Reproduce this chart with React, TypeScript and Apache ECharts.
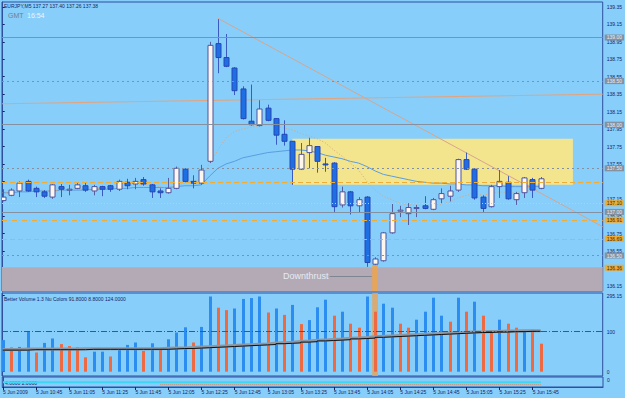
import React, { useEffect, useRef } from "react";
import * as echarts from "echarts";

// ---------- texts ----------
const titleText = "EURJPY,M5 137.27 137.40 137.26 137.38";
const clockLabel = "GMT";
const clockTime = "16:54";
const volumeTitle = "Better Volume 1.3 Nu Colors 91.8000 8.8000 124.0000";
const subTitle = "4.0000 2.0000";
const signalLabel = "Downthrust";
const signalIndex = 45;

// ---------- price bars (M5, index 0 = 10:25) ----------
const opens = [137.13,137.19,137.24,137.35,137.27,137.23,137.17,137.29,137.26,137.27,137.30,137.24,137.29,137.30,137.26,137.34,137.32,137.37,137.31,137.24,137.22,137.27,137.49,137.35,137.33,137.58,138.93,138.77,138.65,138.41,138.04,137.99,138.19,138.07,137.89,137.81,137.49,137.68,137.75,137.55,137.56,137.08,137.23,137.07,137.17,136.40,136.44,136.76,137.01,136.98,137.05,137.07,137.03,137.15,137.18,137.25,137.60,137.49,137.17,137.06,137.29,137.34,137.14,137.22,137.37,137.27];
const closes = [137.17,137.25,137.33,137.24,137.23,137.18,137.31,137.26,137.26,137.31,137.25,137.29,137.26,137.26,137.35,137.30,137.35,137.32,137.23,137.22,137.27,137.50,137.35,137.33,137.48,138.91,138.77,138.67,138.39,138.07,138.00,138.18,138.05,137.88,137.81,137.49,137.66,137.76,137.58,137.54,137.06,137.23,137.07,137.14,136.42,136.46,136.76,136.98,137.02,137.05,137.05,137.04,137.14,137.21,137.24,137.60,137.49,137.16,137.04,137.29,137.35,137.15,137.21,137.39,137.25,137.38];
const lows = [137.12,137.18,137.17,137.23,137.17,137.16,137.15,137.17,137.19,137.26,137.23,137.19,137.18,137.23,137.24,137.26,137.26,137.30,137.16,137.16,137.21,137.26,137.34,137.27,137.31,137.56,138.59,138.66,138.34,138.06,137.99,137.98,138.04,137.77,137.76,137.31,137.48,137.50,137.45,137.46,137.00,137.05,136.97,136.99,136.37,136.39,136.43,136.75,136.94,136.85,136.94,137.03,137.02,137.10,137.12,137.23,137.48,137.14,137.00,137.05,137.16,137.14,137.08,137.16,137.16,137.26];
const highs = [137.26,137.27,137.35,137.37,137.29,137.25,137.32,137.32,137.31,137.33,137.33,137.31,137.30,137.31,137.37,137.38,137.39,137.40,137.32,137.27,137.39,137.52,137.50,137.42,137.54,138.95,139.21,139.04,138.66,138.44,138.46,138.28,138.23,138.07,138.05,137.81,137.79,137.85,137.75,137.62,137.57,137.29,137.24,137.17,137.18,136.48,136.77,137.10,137.07,137.10,137.08,137.18,137.16,137.27,137.30,137.61,137.68,137.50,137.19,137.31,137.48,137.41,137.23,137.40,137.39,137.40];

// moving averages on price
const maSlow = [137.22,137.22,137.23,137.23,137.24,137.24,137.24,137.25,137.25,137.25,137.25,137.26,137.26,137.26,137.27,137.27,137.28,137.28,137.28,137.28,137.28,137.29,137.30,137.30,137.31,137.41,137.50,137.55,137.58,137.62,137.64,137.66,137.68,137.69,137.70,137.71,137.71,137.70,137.68,137.65,137.63,137.61,137.58,137.56,137.52,137.47,137.43,137.41,137.39,137.37,137.35,137.34,137.33,137.33,137.32,137.32,137.31,137.31,137.30,137.30,137.30,137.29,137.29,137.29,137.29,137.29];
const maFast = [137.22,137.23,137.25,137.26,137.26,137.25,137.24,137.25,137.26,137.26,137.27,137.27,137.27,137.27,137.29,137.30,137.31,137.32,137.31,137.29,137.27,137.30,137.33,137.35,137.38,137.56,137.71,137.85,137.92,137.95,137.97,137.99,138.00,137.99,137.96,137.94,137.90,137.87,137.84,137.79,137.71,137.64,137.56,137.48,137.35,137.25,137.18,137.14,137.10,137.08,137.08,137.07,137.08,137.09,137.11,137.16,137.19,137.21,137.19,137.21,137.23,137.22,137.22,137.24,137.25,137.26];

// ---------- volume ----------
const volumes = [79,61,62,100,48,72,83,69,64,61,36,50,50,38,54,67,73,52,71,57,81,98,111,73,112,188,160,154,158,182,184,188,148,158,142,167,119,129,161,180,140,150,120,110,188,150,170,160,120,110,130,150,185,140,125,185,150,175,140,100,130,120,110,100,105,70];
const volumeKinds = ["b","r","b","b","r","b","b","r","r","r","r","b","b","r","b","b","b","r","b","r","b","b","b","r","b","b","r","r","b","b","b","b","r","b","r","b","r","b","b","b","r","b","r","r","b","r","b","b","r","r","b","b","b","b","r","b","r","b","r","r","b","r","r","b","r","r"];
const volumeMA = [54,54,54,55,55,55,55,55,55,55,56,56,56,56,56,56,56,56,56,56,57,58,58,59,60,61,62,63,64,65,66,67,68,70,71,72,74,75,77,78,79,80,82,83,84,86,87,88,89,90,91,92,93,94,95,96,97,98,98,99,99,100,100,101,101,101];
const volumeLevel = 100;
const volumeTickValues = [0, 100, 190];
const volumeTickLabels = ["0", "100", "295.15"];

// ---------- lower indicator ----------
const subUpperIdx = [0, 65];
const subUpperVal = [4, 4];
const subLowerIdx = [19, 65];
const subLowerVal = [2, 2];

// ---------- axes ----------
const priceTicks = [136.15,136.35,136.55,136.75,136.95,137.15,137.35,137.55,137.75,137.95,138.15,138.35,138.55,138.75,138.95,139.15,139.35];
// 137.35 is hidden behind the bid box in the reference
const priceTickLabels = [136.15,136.35,136.55,136.75,136.95,137.15,137.55,137.75,137.95,138.15,138.35,138.55,138.75,138.95,139.15,139.35];
const timeTickIndex = [0,4,8,12,16,20,24,28,32,36,40,44,48,52,56,60,64];
const timeTickLabels = ["5 Jun 2009","5 Jun 10:45","5 Jun 11:05","5 Jun 11:25","5 Jun 11:45","5 Jun 12:05","5 Jun 12:25","5 Jun 12:45","5 Jun 13:05","5 Jun 13:25","5 Jun 13:45","5 Jun 14:05","5 Jun 14:25","5 Jun 14:45","5 Jun 15:05","5 Jun 15:25","5 Jun 15:45"];

// ---------- horizontal levels ----------
const levelPrices = [139.00, 138.50, 138.00, 137.50, 137.34, 137.10, 137.00, 136.91, 136.69, 136.50, 136.36];
const levelKinds = ["round", "roundDot", "round", "roundDot", "pivotDash", "pivotDot", "round", "pivotDashDot", "pivotDash", "roundDot", "pivotSolid"];
const bidPrice = 137.38;

// trend lines (anchor bar index, price)
const trendDownIdx = [26, 72.5];
const trendDownPrice = [139.22, 136.83];
const trendUpIdx = [-0.08, 72.5];
const trendUpPrice = [138.24, 138.35];

// zones
const boxIdx = [35, 68.9];
const boxPrice = [137.84, 137.31];
const zonePrice = [136.36, 136.093];
const signalLinePrice = 136.26;
const signalLineIdx = [39.5, 44.6];

const X_MIN = -0.085;
const X_MAX = 72.5;
const Y_MIN = 136.093;
const Y_MAX = 139.407;

const FONT = "Liberation Sans";
const NAVY = "#17245e";
const BG = "#87CEFA";
const AXIS = "#2f4f9f";

function levelStyle(kind: string) {
  const gray = "#8591a0";
  const orange = "#f0ad35";
  switch (kind) {
    case "round": return { line: { color: gray, type: "solid" as any, width: 1 }, box: gray, text: "#e9eef4" };
    case "roundDot": return { line: { color: gray, type: [2, 3] as any, width: 1 }, box: gray, text: "#e9eef4" };
    case "pivotDash": return { line: { color: orange, type: [5, 3] as any, width: 1 }, box: orange, text: "#3a2a10" };
    case "pivotDot": return { line: { color: "#f4c27a", type: [1, 2] as any, width: 1 }, box: orange, text: "#3a2a10" };
    case "pivotDashDot": return { line: { color: orange, type: [5, 2, 1, 2] as any, width: 1 }, box: orange, text: "#3a2a10" };
    default: return { line: { color: orange, type: "solid" as any, width: 1 }, box: orange, text: "#3a2a10" };
  }
}

export default function App() {
  const ref = useRef<HTMLDivElement>(null);
  useEffect(() => {
    document.body.style.margin = "0";
    const chart = echarts.init(ref.current!, null, { renderer: "svg" });

    const candleRows = opens.map((o, i) => [i, o, closes[i], lows[i], highs[i]]);
    const volRows = volumes.map((v, i) => [i, v]);

    const levelLines: any[] = levelPrices.map((p, k) => {
      const s = levelStyle(levelKinds[k]);
      const hideLabel = k === 4;
      return {
        yAxis: p,
        lineStyle: s.line,
        label: hideLabel
          ? { show: false }
          : {
              show: true, position: "end", distance: 2, formatter: p.toFixed(2),
              backgroundColor: s.box, color: s.text, padding: [1, 2, 0, 2],
              fontSize: 5, fontFamily: FONT,
            },
      };
    });
    levelLines.push({
      yAxis: bidPrice,
      lineStyle: { opacity: 0 },
      label: {
        show: true, position: "end", distance: 2, formatter: bidPrice.toFixed(2),
        backgroundColor: "#16206a", color: "#ffffff", padding: [1, 2, 0, 2], fontSize: 5, fontFamily: FONT,
      },
    });

    const option: any = {
      animation: false,
      backgroundColor: BG,
      grid: [
        { left: 2, width: 601, top: 2, height: 289, show: true, borderColor: AXIS, borderWidth: 1, backgroundColor: "transparent" },
        { left: 2, width: 601, top: 293, height: 83, show: true, borderColor: AXIS, borderWidth: 1, backgroundColor: "transparent" },
        { left: 2, width: 601, top: 377, height: 10, show: true, borderColor: AXIS, borderWidth: 1, backgroundColor: "transparent" },
      ],
      xAxis: [
        { type: "value", gridIndex: 0, min: X_MIN, max: X_MAX, show: false },
        { type: "value", gridIndex: 1, min: X_MIN, max: X_MAX, show: false },
        {
          type: "value", gridIndex: 2, min: X_MIN, max: X_MAX,
          splitLine: { show: false },
          axisLine: { show: true, lineStyle: { color: AXIS } },
          axisTick: { show: true, customValues: timeTickIndex, length: 3, lineStyle: { color: NAVY } },
          axisLabel: {
            show: true, customValues: timeTickIndex, align: "left", margin: 2,
            fontSize: 5, fontFamily: FONT, color: NAVY,
            formatter: (v: number) => timeTickLabels[timeTickIndex.indexOf(Math.round(v))] ?? "",
          },
        },
      ],
      yAxis: [
        {
          type: "value", gridIndex: 0, position: "right", min: Y_MIN, max: Y_MAX,
          splitLine: { show: false },
          axisLine: { show: true, lineStyle: { color: AXIS } },
          axisTick: { show: true, customValues: priceTicks, length: 2, lineStyle: { color: NAVY } },
          axisLabel: {
            show: true, customValues: priceTickLabels, margin: 4, fontSize: 5, fontFamily: FONT, color: NAVY,
            formatter: (v: number) => v.toFixed(2),
          },
        },
        {
          type: "value", gridIndex: 1, position: "right", min: -10.75, max: 196.75,
          splitLine: { show: false },
          axisLine: { show: true, lineStyle: { color: AXIS } },
          axisTick: { show: true, customValues: volumeTickValues, length: 2, lineStyle: { color: NAVY } },
          axisLabel: {
            show: true, customValues: volumeTickValues, margin: 4, fontSize: 5, fontFamily: FONT, color: NAVY,
            formatter: (v: number) => volumeTickLabels[volumeTickValues.indexOf(Math.round(v))] ?? "",
          },
        },
        {
          type: "value", gridIndex: 2, position: "right", min: 0, max: 8.5,
          splitLine: { show: false },
          axisLine: { show: true, lineStyle: { color: AXIS } },
          axisTick: { show: false },
          axisLabel: {
            show: true, customValues: [2, 6], margin: 4, fontSize: 5, fontFamily: FONT, color: NAVY,
            formatter: () => "0",
          },
        },
      ],
      graphic: [
        { type: "text", x: 4, y: 6, style: { text: titleText, font: `5px "${FONT}"`, fill: NAVY, verticalAlign: "middle" } },
        { type: "text", x: 8, y: 15, style: { text: clockLabel, font: `7px "${FONT}"`, fill: "#6f7f90", verticalAlign: "middle" } },
        { type: "text", x: 27, y: 15, style: { text: clockTime, font: `7px "${FONT}"`, fill: "#eef4fa", verticalAlign: "middle" } },
        { type: "text", x: 4, y: 298.5, style: { text: volumeTitle, font: `5px "${FONT}"`, fill: NAVY, verticalAlign: "middle" } },
        { type: "text", x: 5, y: 382.5, style: { text: subTitle, font: `5px "${FONT}"`, fill: NAVY, verticalAlign: "middle" } },
      ],
      series: [
        // zones + slow MA
        {
          name: "maSlow", type: "line", xAxisIndex: 0, yAxisIndex: 0, z: 3,
          data: maSlow.map((v, i) => [i, v]), symbol: "none",
          lineStyle: { color: "#5a9ee0", width: 1 },
          markArea: {
            silent: true,
            data: [
              [{ yAxis: zonePrice[0], itemStyle: { color: "#b3aab6" } }, { yAxis: zonePrice[1] }],
              [{ coord: [boxIdx[0], boxPrice[0]], itemStyle: { color: "#f3e48e" } }, { coord: [boxIdx[1], boxPrice[1]] }],
              [{ coord: [signalIndex - 0.35, lows[signalIndex]], itemStyle: { color: "#e7a55a" } }, { coord: [signalIndex + 0.35, zonePrice[1]] }],
            ],
          },
          markLine: {
            silent: true, symbol: ["none", "none"], animation: false,
            data: levelLines,
          },
        },
        {
          name: "maFast", type: "line", xAxisIndex: 0, yAxisIndex: 0, z: 3,
          data: maFast.map((v, i) => [i, v]), symbol: "none",
          lineStyle: { color: "#d9a77a", width: 1, type: [1, 2] },
          markLine: {
            silent: true, symbol: ["none", "none"],
            lineStyle: { color: "#7d8794", width: 1, type: "solid" },
            label: {
              show: true, position: "start", distance: 1, formatter: signalLabel,
              color: "#e4ebf2", fontSize: 9, fontFamily: FONT,
            },
            data: [[{ coord: [signalLineIdx[0], signalLinePrice] }, { coord: [signalLineIdx[1], signalLinePrice] }]],
          },
        },
        {
          name: "trendDown", type: "line", xAxisIndex: 0, yAxisIndex: 0, z: 3,
          data: trendDownIdx.map((x, k) => [x, trendDownPrice[k]]), symbol: "none",
          lineStyle: { color: "#d7a58e", width: 1 },
        },
        {
          name: "trendUp", type: "line", xAxisIndex: 0, yAxisIndex: 0, z: 3,
          data: trendUpIdx.map((x, k) => [x, trendUpPrice[k]]), symbol: "none",
          lineStyle: { color: "#e2a47e", width: 1 },
        },
        {
          name: "candles", type: "custom", xAxisIndex: 0, yAxisIndex: 0, z: 4, clip: true,
          data: candleRows,
          encode: { x: 0, y: [1, 2, 3, 4] },
          renderItem: (params: any, api: any) => {
            const i = api.value(0);
            const o = api.value(1), c = api.value(2), l = api.value(3), h = api.value(4);
            const po = api.coord([i, o]);
            const pc = api.coord([i, c]);
            const pl = api.coord([i, l]);
            const ph = api.coord([i, h]);
            const x = Math.round(po[0]) + 0.5;
            const bull = c >= o;
            const top = Math.min(po[1], pc[1]);
            const bot = Math.max(po[1], pc[1]);
            const hh = Math.max(1, bot - top);
            return {
              type: "group",
              children: [
                { type: "line", shape: { x1: x, y1: ph[1], x2: x, y2: pl[1] }, style: { stroke: bull ? "#55609f" : "#3a5cc0", lineWidth: 1 } },
                {
                  type: "rect",
                  shape: { x: x - 2.5, y: top, width: 5, height: hh },
                  style: { fill: bull ? "#fdf6ec" : "#1f6fe4", stroke: bull ? "#4d55a2" : "#2646b4", lineWidth: 1 },
                },
              ],
            };
          },
        },
        // volume
        {
          name: "volume", type: "custom", xAxisIndex: 1, yAxisIndex: 1, z: 3, clip: true,
          data: volRows,
          encode: { x: 0, y: 1 },
          renderItem: (params: any, api: any) => {
            const i = api.value(0);
            const v = api.value(1);
            const p0 = api.coord([i, 0]);
            const p1 = api.coord([i, v]);
            const kind = volumeKinds[params.dataIndex];
            return {
              type: "rect",
              shape: { x: Math.round(p0[0]) - 1, y: p1[1], width: 3, height: p0[1] - p1[1] },
              style: { fill: kind === "r" ? "#ee6a43" : "#2b8df0" },
            };
          },
          markLine: {
            silent: true, symbol: ["none", "none"], label: { show: false },
            lineStyle: { color: "#2f52c4", width: 1, type: [6, 2, 1, 2] },
            data: [{ yAxis: volumeLevel }],
          },
          markArea: {
            silent: true,
            data: [[{ xAxis: signalIndex - 0.35, itemStyle: { color: "rgba(231,165,90,0.85)" } }, { xAxis: signalIndex + 0.35 }]],
          },
        },
        {
          name: "volumeMAshadow", type: "line", xAxisIndex: 1, yAxisIndex: 1, z: 4,
          data: volumeMA.map((v, i) => [i, v + 1.5]), symbol: "none",
          lineStyle: { color: "#8d97a4", width: 3 },
        },
        {
          name: "volumeMA", type: "line", xAxisIndex: 1, yAxisIndex: 1, z: 5,
          data: volumeMA.map((v, i) => [i, v]), symbol: "none", step: "end",
          lineStyle: { color: "#101010", width: 1 },
        },
        // lower indicator
        {
          name: "subUpper", type: "line", xAxisIndex: 2, yAxisIndex: 2, z: 3,
          data: subUpperIdx.map((x, k) => [x, subUpperVal[k]]), symbol: "none",
          lineStyle: { color: "#3fd6f4", width: 2 },
        },
        {
          name: "subLower", type: "line", xAxisIndex: 2, yAxisIndex: 2, z: 3,
          data: subLowerIdx.map((x, k) => [x, subLowerVal[k]]), symbol: "none",
          lineStyle: { color: "#d98c5a", width: 1, type: [1, 1] },
        },
      ],
    };

    chart.setOption(option);
    return () => chart.dispose();
  }, []);

  return <div ref={ref} style={{ width: 625, height: 398, background: BG }} />;
}
